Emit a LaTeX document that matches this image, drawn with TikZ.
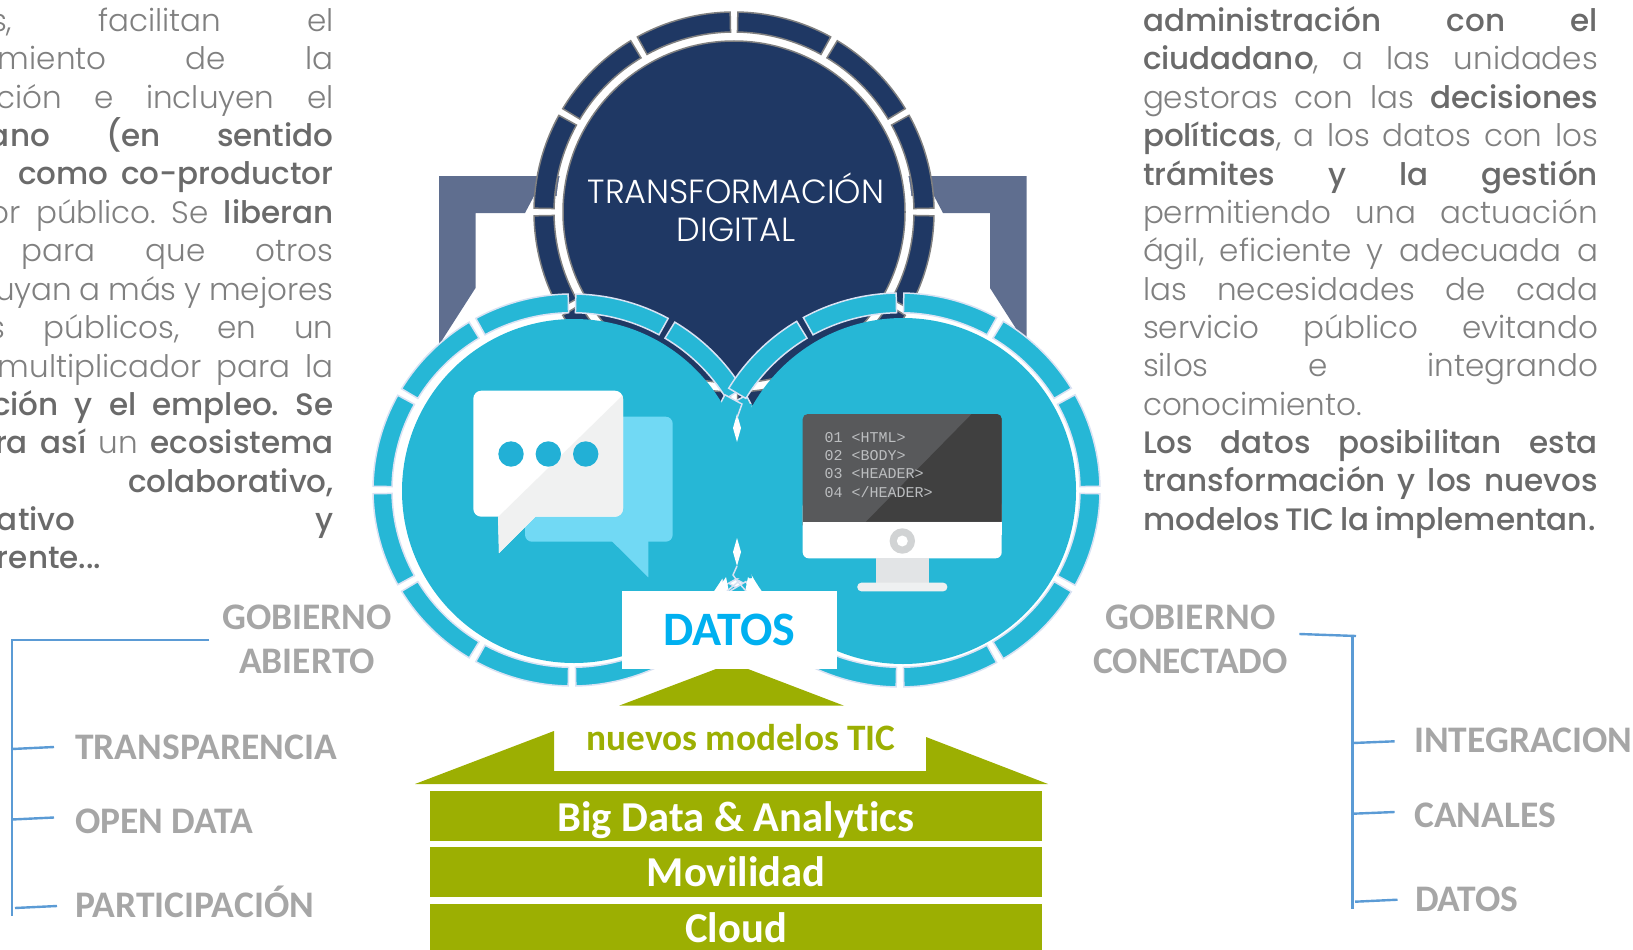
\documentclass[tikz,border=0pt]{standalone}
\usepackage{fontspec}
\setmainfont[Ligatures=NoCommon]{Carlito}
\newfontfamily\gL{Poppins Light}
\newfontfamily\gB{Poppins Medium}
\newfontfamily\gM{Liberation Mono}
\definecolor{navy}{HTML}{1F3864}
\definecolor{brack}{HTML}{5F6E8F}
\definecolor{cyanD}{HTML}{26B7D6}
\definecolor{ringL}{HTML}{D9E2F3}
\definecolor{olive}{HTML}{9CAF02}
\definecolor{lbl}{HTML}{A6A6A6}
\definecolor{lineB}{HTML}{5B9BD5}
\definecolor{txtR}{HTML}{808080}
\definecolor{txtB}{HTML}{6A6A6A}
\definecolor{bubL}{HTML}{71D9F4}
\definecolor{bubG}{HTML}{F0F1F1}
\definecolor{dotC}{HTML}{22B0D6}
\definecolor{scrL}{HTML}{58595B}
\definecolor{scrD}{HTML}{404040}
\definecolor{standC}{HTML}{E2E4E6}
\definecolor{baseC}{HTML}{EEF0F1}
\definecolor{knob}{HTML}{D1D3D4}
\definecolor{codeC}{HTML}{BCBEC0}
\definecolor{datosC}{HTML}{00B0F0}
\newcommand{\fsz}[1]{\fontsize{#1}{#1}\selectfont}
\newcommand{\bd}[1]{{\gB\color{txtB}#1}}
% one justified line: y, left, right, content
\newcommand{\jline}[4]{\pgfmathsetlengthmacro{\lw}{#3-(#2)}\node[anchor=base west,inner sep=0pt,outer sep=0pt,text=txtR] at (#2,#1) {\hbox to \lw{\gL\fsz{31}\frenchspacing\spaceskip=.28em plus 1fil minus .1em\relax #4}};}
\newcommand{\seg}[4]{(#3:#1) arc[start angle=#3,end angle=#4,radius=#1] -- (#4:#2) arc[start angle=#4,end angle=#3,radius=#2] -- cycle}
\tikzset{
  labelnode/.style={inner sep=0pt,font=\bfseries\fsz{37.5},text=lbl,align=center},
  leftnode/.style={labelnode,anchor=west},
  barbox/.style={fill=olive,draw=none,minimum width=612pt,inner sep=0pt,font=\bfseries\fsz{42.6},text=white},
  treeline/.style={draw=lineB,line width=2.4pt},
  codeline/.style={anchor=west,inner sep=0pt,font=\gM\fsz{15},text=codeC},
}
\begin{document}
\begin{tikzpicture}[x=1pt,y=-1pt]
\useasboundingbox (0,0) rectangle (1633,950);
% bracket behind top circle
\fill[brack] (439,176)--(1026.5,176)--(1026.5,345)--(990,288)--(990,213)--(943,213)--(934,196)--(534,196)--(525,213)--(475.5,213)--(475.5,288)--(439,345)--cycle;
% top circle
\begin{scope}[shift={(734,212)}]
  \foreach \a in {0,30,...,330}{\pgfmathsetmacro{\b}{\a+1.1}\pgfmathsetmacro{\c}{\a+28.9}
    \path[draw=gray,line width=1.5pt,fill=navy] \seg{200}{180}{\b}{\c};}
  \fill[white] (0,0) circle[radius=178];
  \path[draw=gray,line width=1.5pt,fill=navy] (0,0) circle[radius=171];
\end{scope}
\node[inner sep=0pt,text=white,align=center,font=\gL\fsz{33.5}] (title) at (736,207) {TRANSFORMACIÓN\\[4.5pt]DIGITAL};
% rings of the two lower circles
\begin{scope}[shift={(572,490)},yscale=0.985]
  \foreach \a in {0,30,...,330}{\pgfmathsetmacro{\b}{\a+1.1}\pgfmathsetmacro{\c}{\a+28.9}
    \path[draw=ringL,line width=1.5pt,fill=cyanD] \seg{199}{180}{\b}{\c};}
\end{scope}
\begin{scope}[shift={(900,490)},yscale=0.985]
  \foreach \a in {0,30,...,330}{\pgfmathsetmacro{\b}{\a+1.1}\pgfmathsetmacro{\c}{\a+28.9}
    \path[draw=ringL,line width=1.5pt,fill=cyanD] \seg{200}{180}{\b}{\c};}
\end{scope}
% discs and the meeting zone between them
\fill[cyanD] (574,491) circle[radius=172];
\fill[cyanD] (903,491) circle[radius=173];
\fill[cyanD] (722,404)--(752,404)--(745,440)--(745,540)--(752,578)--(722,578)--(729,540)--(729,440)--cycle;
\fill[white] (737,414)--(741,428)--(737,442)--(733,428)--cycle;
\fill[white] (737,538)--(741,552)--(737,566)--(733,552)--cycle;
\fill[white] (726,577)--(716,592)--(729,592)--cycle;
\fill[white] (748,577)--(761,592)--(745,592)--cycle;
\draw[ringL,line width=1.5pt] (742,404)--(737,418);
\draw[ringL,line width=1.5pt] (737,566)--(733,575)--(738,582)--(727,591);
\draw[ringL,line width=1.5pt] (738,582)--(746,591);
% chat icon
\fill[bubL,rounded corners=7pt] (525,416.7) rectangle (672.7,541.7);
\fill[bubL] (611.7,541) -- (648.3,577.3) -- (648.3,541) -- cycle;
\fill[white,rounded corners=8pt] (473.3,390.7) rectangle (623,516.7);
\fill[white] (498,516) -- (499,553) -- (536,516) -- cycle;
\begin{scope}
  \clip[rounded corners=8pt] (473.3,390.7) rectangle (623,516.7);
  \fill[bubG] (623,395) -- (623,520) -- (495,520) -- cycle;
\end{scope}
\fill[bubG] (498,516) -- (499,553) -- (536,516) -- cycle;
\foreach \x in {511,548.3,585.7}{\fill[dotC] (\x,454) circle[radius=12.7];}
% monitor icon
\fill[white,rounded corners=6pt] (802.7,500) rectangle (1001.7,558.3);
\fill[standC] (876,558.3) rectangle (929.3,583);
\fill[baseC,rounded corners=4pt] (857.3,582.7) rectangle (947.3,591.3);
\fill[scrL,rounded corners=5pt] (802.7,414) rectangle (1001.7,530);
\fill[white] (802.7,521.7) rectangle (1001.7,535);
\begin{scope}
  \clip[rounded corners=5pt] (802.7,414) rectangle (1001.7,530);
  \fill[scrD] (971.7,414) -- (1001.7,414) -- (1001.7,521.7) -- (866,521.7) -- cycle;
\end{scope}
\fill[knob] (902.3,541) circle[radius=12.7];
\fill[white] (902.3,541) circle[radius=5.5];
\node[codeline] (c1) at (824.3,437.3) {01 <HTML>};
\node[codeline] (c2) at (824.3,455.7) {02 <BODY>};
\node[codeline] (c3) at (824.3,473.3) {03 <HEADER>};
\node[codeline] (c4) at (824.3,491.7) {04 </HEADER>};
% DATOS box and arrow
\node[fill=white,minimum width=215pt,minimum height=78pt,inner sep=0pt,font=\bfseries\fsz{48},text=datosC] (datos) at (729.5,630) {DATOS};
\fill[olive] (716,669) -- (748,669) -- (844,705.7) -- (619,705.7) -- cycle;
\fill[olive] (415,784) -- (554,731) -- (554,771) -- (926,771) -- (926,737) -- (1048,784) -- cycle;
\node[inner sep=0pt,font=\bfseries\fsz{37.3},text=olive] (tic) at (741,738) {nuevos modelos TIC};
\node[barbox,minimum height=50pt,text depth=0pt] (bar1) at (736,816) {\raisebox{-2pt}{Big Data \& Analytics}};
\node[barbox,minimum height=50pt] (bar2) at (736,872) {\raisebox{-2pt}{Movilidad}};
\node[barbox,minimum height=47pt] (bar3) at (736,927.5) {\raisebox{-2pt}{Cloud}};
% left tree
\node[labelnode] (ga) at (307,639.5) {GOBIERNO\\[7pt]ABIERTO};
\node[leftnode] (l1) at (75,747) {TRANSPARENCIA};
\node[leftnode] (l2) at (75,821) {OPEN DATA};
\node[leftnode] (l3) at (75,902) {PARTICIPACIÓN};
\coordinate (lt) at (11.7,640);
\coordinate (lh) at (209,640);
\coordinate (lb) at (11.7,916);
\coordinate (a1) at (12,749); \coordinate (b1) at (54,747);
\coordinate (a2) at (12,819.5); \coordinate (b2) at (54,817.5);
\coordinate (a3) at (15,908); \coordinate (b3) at (57,906);
\draw[treeline] (lh) -- (lt) -- (lb);
\draw[treeline] (a1) -- (b1);
\draw[treeline] (a2) -- (b2);
\draw[treeline] (a3) -- (b3);
% right tree
\node[labelnode] (gc) at (1190.5,639.5) {GOBIERNO\\[7pt]CONECTADO};
\node[leftnode] (r1) at (1414,740) {INTEGRACION};
\node[leftnode] (r2) at (1414,815) {CANALES};
\node[leftnode] (r3) at (1415,899) {DATOS};
\coordinate (rs) at (1299.4,634);
\coordinate (re) at (1356,636);
\coordinate (rt) at (1352.3,636);
\coordinate (rb) at (1352.3,909);
\coordinate (c1a) at (1353,743); \coordinate (c1b) at (1394.6,741.3);
\coordinate (c2a) at (1353,813.7); \coordinate (c2b) at (1394.6,812);
\coordinate (c3a) at (1355,901.7); \coordinate (c3b) at (1397.5,899.7);
\draw[treeline] (rs) -- (re);
\draw[treeline] (rt) -- (rb);
\draw[treeline] (c1a) -- (c1b);
\draw[treeline] (c2a) -- (c2b);
\draw[treeline] (c3a) -- (c3b);
% left text
\jline{31.5}{-9}{333.5}{s, facilitan el}
\jline{69.5}{-2}{333.5}{miento de la}
\jline{108}{-4}{333.5}{ción e incluyen el}
\jline{146}{-11}{333.5}{\bd{ano (en sentido}}
\jline{184.5}{18}{333.5}{\bd{como co-productor}}
\jline{223}{-10}{333.5}{or público. Se \bd{liberan}}
\jline{261.5}{21.7}{333.5}{para que otros}
\jline{300}{-5}{333.5}{uyan a más y mejores}
\jline{338.5}{-10}{333.5}{s públicos, en un}
\jline{377}{-2}{333.5}{multiplicador para la}
\jline{415.5}{-8}{333.5}{\bd{ción y el empleo. Se}}
\jline{453.5}{-5}{333.5}{\bd{ra así} un \bd{ecosistema}}
\jline{492}{128}{333.5}{\hfill\bd{colaborativo,}}
\jline{530.5}{-3}{333.5}{\bd{ativo y}}
\jline{568}{-3}{333.5}{\bd{rente...}\hfil}
% right text
\jline{31.5}{1143}{1598}{\bd{administración con el}}
\jline{69.5}{1143}{1598}{\bd{ciudadano}, a las unidades}
\jline{108}{1143}{1598}{gestoras con las \bd{decisiones}}
\jline{146}{1143}{1598}{\bd{políticas}, a los datos con los}
\jline{185}{1143}{1598}{\bd{trámites y la gestión}}
\jline{223}{1143}{1598}{permitiendo una actuación}
\jline{261}{1143}{1598}{ágil, eficiente y adecuada a}
\jline{300}{1143}{1598}{las necesidades de cada}
\jline{338}{1143}{1598}{servicio público evitando}
\jline{376.5}{1143}{1598}{silos e integrando}
\jline{415}{1143}{1598}{conocimiento.\hfill}
\jline{453}{1143}{1598}{\bd{Los datos posibilitan esta}}
\jline{491.5}{1143}{1598}{\bd{transformación y los nuevos}}
\jline{530}{1143}{1593}{\bd{modelos TIC la implementan.}}
\end{tikzpicture}
\end{document}
